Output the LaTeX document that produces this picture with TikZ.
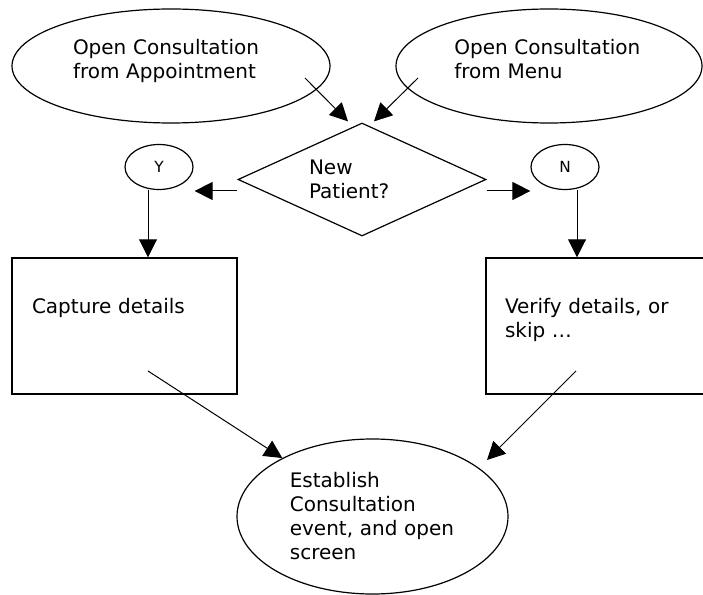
\documentclass[tikz,border=0pt]{standalone}
\usepackage{fontspec}
\setmainfont{DejaVu Sans}
\usetikzlibrary{shapes.geometric, arrows.meta}

\begin{document}
\begin{tikzpicture}[x=0.75pt, y=-0.75pt,
    every node/.style={font=\fontsize{15pt}{18pt}\selectfont, inner sep=0pt},
    oval/.style={draw, ellipse, line width=0.9pt, align=left},
    choice/.style={draw, diamond, aspect=2.2, line width=0.9pt, align=left},
    answer/.style={draw, ellipse, line width=0.9pt, minimum width=51pt, minimum height=33.75pt, font=\fontsize{11.5pt}{14pt}\selectfont},
    box/.style={draw, rectangle, line width=1.1pt, align=left, text height=11pt, text depth=30.5pt},
    arr/.style={line width=0.75pt, -{Triangle[length=13.5pt, width=13.5pt]}}]
  %tikz  Consultation flow
    \useasboundingbox (0,0) rectangle (703,595);

    \node[oval, minimum width=238.5pt, minimum height=85.5pt, text width=147pt, text depth=28pt] (appt) at (171,66) {Open Consultation\\from Appointment};
    \node[oval, minimum width=229.5pt, minimum height=85.5pt, text width=142pt, text depth=28pt] (menu) at (549,66) {Open Consultation\\from Menu};

    \node[choice, minimum width=186pt, minimum height=84.75pt, text width=79.5pt] (dec) at (362,179.5) {New\\Patient?};

    \node[answer] (yes) at (159,167) {Y};
    \node[answer] (no) at (565,167) {N};

    \node[box, minimum width=168.75pt, minimum height=102pt, text width=138.75pt] (capture) at (124.5,326) {Capture details};
    \node[box, minimum width=164.25pt, minimum height=102pt, text width=135.75pt] (verify) at (595.5,326) {Verify details, or\\skip …};

    \node[oval, minimum width=203.25pt, minimum height=116.25pt, text width=124pt] (final) at (372.5,516.5) {Establish\\Consultation\\event, and open\\screen};

    \coordinate (appt-out) at ([shift={(134,12)}]appt.center);
    \coordinate (menu-out) at ([shift={(-131,12)}]menu.center);
    \coordinate (yes-out) at ([shift={(-11,0)}]yes.south);
    \coordinate (no-out) at ([shift={(12,0)}]no.south);
    \coordinate (capture-out) at ([shift={(23.5,45)}]capture.center);
    \coordinate (verify-out) at ([shift={(-19.5,45)}]verify.center);

    \draw[arr] (appt-out) -- ([shift={(-14,-1)}]dec.north);
    \draw[arr] (menu-out) -- ([shift={(12,-1)}]dec.north);
    \draw[arr] ([shift={(0,11.5)}]dec.west) -- ([shift={(1,24)}]yes.east);
    \draw[arr] ([shift={(0,11.5)}]dec.east) -- ([shift={(0,24)}]no.west);
    \draw[arr] (yes-out) -- (yes-out |- capture.north);
    \draw[arr] (no-out) -- (no-out |- verify.north);
    \draw[arr] (capture-out) -- (final);
    \draw[arr] (verify-out) -- ([shift={(114.5,-56.5)}]final.center);
\end{tikzpicture}
\end{document}
